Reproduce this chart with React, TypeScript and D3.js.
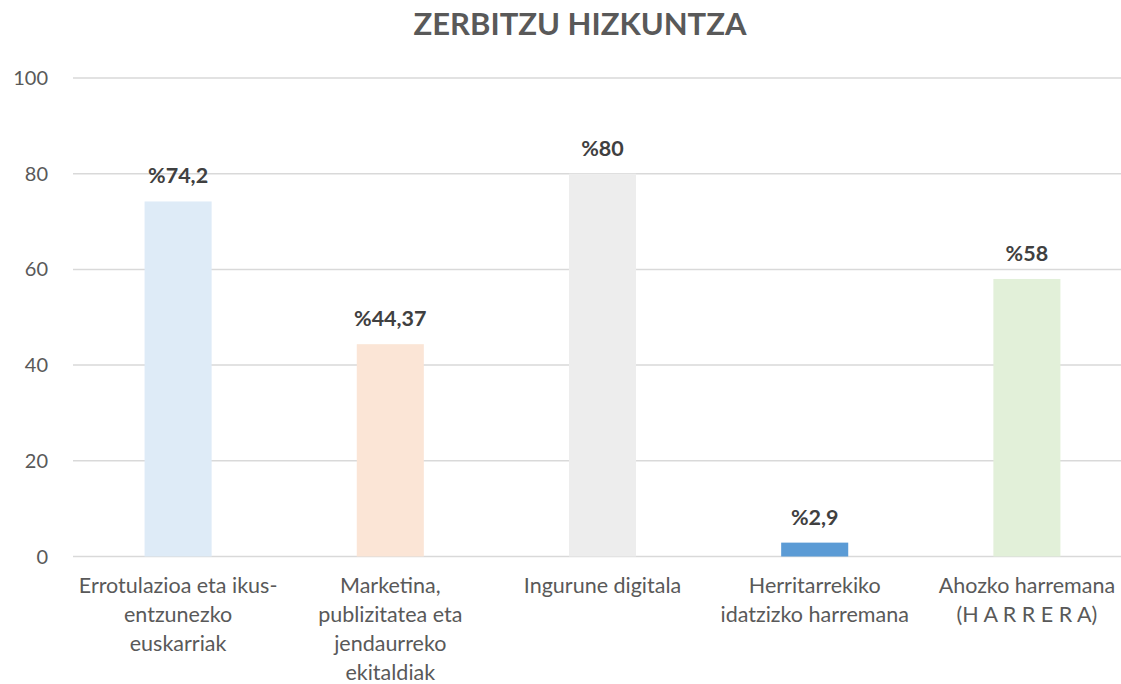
import React from "react";
import * as d3 from "d3";

const title = "ZERBITZU HIZKUNTZA";
const categories = [
  "Errotulazioa eta ikus-entzunezko euskarriak",
  "Marketina, publizitatea eta jendaurreko ekitaldiak",
  "Ingurune digitala",
  "Herritarrekiko idatzizko harremana",
  "Ahozko harremana (HARRERA)",
];
const categoryLines = [
  ["Errotulazioa eta ikus-", "entzunezko", "euskarriak"],
  ["Marketina,", "publizitatea eta", "jendaurreko", "ekitaldiak"],
  ["Ingurune digitala"],
  ["Herritarrekiko", "idatzizko harremana"],
  ["Ahozko harremana", "(H A R R E R A)"],
];
const values = [74.2, 44.37, 80, 2.9, 58];
const valueLabels = ["%74,2", "%44,37", "%80", "%2,9", "%58"];
const barColors = ["#DEEBF7", "#FBE5D6", "#EDEDED", "#5B9BD5", "#E2F0D9"];
const yTicks = [0, 20, 40, 60, 80, 100];

const W = 1121;
const H = 684;
const FONT = "Lato, 'Open Sans', sans-serif";

export default function App() {
  const x = d3
    .scaleBand<string>()
    .domain(categories)
    .range([72, 1133])
    .paddingInner(0.684)
    .paddingOuter(0.342);
  const y = d3.scaleLinear().domain([0, 100]).range([556.5, 78]);
  const gridRight = 1121;

  return (
    <svg
      width={W}
      height={H}
      style={{ position: "fixed", left: 0, top: 0, background: "#fff" }}
      fontFamily={FONT}
    >
      <rect x={0} y={0} width={W} height={H} fill="#fff" />
      <text
        x={580}
        y={35}
        textAnchor="middle"
        fontSize={31}
        fontWeight="bold"
        fill="#595959"
      >
        {title}
      </text>
      {yTicks.map((t) => (
        <g key={t}>
          <line
            x1={73}
            x2={gridRight}
            y1={y(t)}
            y2={y(t)}
            stroke="#D9D9D9"
            strokeWidth={1.5}
          />
          <text
            x={48}
            y={y(t) + 7}
            textAnchor="end"
            fontSize={20}
            fill="#595959"
          >
            {t}
          </text>
        </g>
      ))}
      {categories.map((c, i) => {
        const bx = x(c)!;
        const bw = x.bandwidth();
        const cx = bx + bw / 2;
        return (
          <g key={c}>
            <rect
              x={bx}
              y={y(values[i])}
              width={bw}
              height={y(0) - y(values[i])}
              fill={barColors[i]}
            />
            <text
              x={cx}
              y={y(values[i]) - 18}
              textAnchor="middle"
              fontSize={21.5}
              fontWeight="bold"
              fill="#404040"
            >
              {valueLabels[i]}
            </text>
            {categoryLines[i].map((ln, j) => (
              <text
                key={j}
                x={cx}
                y={593 + j * 29}
                textAnchor="middle"
                fontSize={21.5}
                fill="#595959"
              >
                {ln}
              </text>
            ))}
          </g>
        );
      })}
    </svg>
  );
}
